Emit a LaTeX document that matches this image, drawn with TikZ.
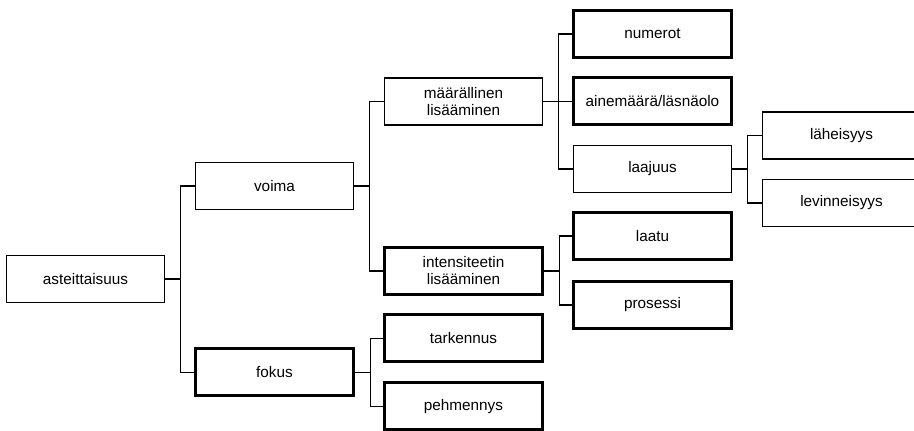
\documentclass[tikz,border=0pt]{standalone}
\usepackage{fontspec}
\setmainfont{Liberation Sans}
\usetikzlibrary{arrows}

\begin{document}
\begin{tikzpicture}[
            x = 1pt, y = 1pt,
            node distance = 189pt, % distance between box centres
            box/.style = {draw, line width=1.3pt, minimum width=158pt, minimum height=47pt,
                          inner sep=0pt, align=center, font=\fontsize{15.3}{17}\selectfont},
            boldbox/.style = {box, line width=3pt},
            fork/.style = {to path={-- ++(15.5pt,0) |- (\tikztotarget)}},
            line width = 1.3pt % line style
        ]

	\path[use as bounding box, clip] (0,0) rectangle (914,431);

	\node[box] (asteittaisuus) at (85.5,152) {asteittaisuus};
	\node[box] (voima) [right of=asteittaisuus, yshift=93pt] {voima};
	\node[boldbox] (fokus) [right of=asteittaisuus, yshift=-93.5pt] {fokus};

	\node[box] (maarallinen) [right of=voima, yshift=84.5pt] {määrällinen\\lisääminen};
	\node[boldbox] (intensiteetin) [right of=voima, yshift=-85pt] {intensiteetin\\lisääminen};
	\node[boldbox] (tarkennus) [right of=fokus, yshift=34pt] {tarkennus};
	\node[boldbox] (pehmennys) [right of=fokus, yshift=-34pt] {pehmennys};

	\node[boldbox] (numerot) [right of=maarallinen, yshift=67.5pt] {numerot};
	\node[boldbox] (ainemaara) [right of=maarallinen] {ainemäärä/läsnäolo};
	\node[box] (laajuus) [right of=maarallinen, yshift=-67.5pt] {laajuus};
	\node[boldbox] (laatu) [right of=intensiteetin, yshift=35pt] {laatu};
	\node[boldbox] (prosessi) [right of=intensiteetin, yshift=-34pt] {prosessi};

	\node[box] (laheisyys) [right of=laajuus, yshift=33.5pt] {läheisyys};
	\node[box] (levinneisyys) [right of=laajuus, yshift=-34pt] {levinneisyys};

	\draw (asteittaisuus.east) edge[fork] (voima.west) edge[fork] (fokus.west);
	\draw (voima.east) edge[fork] (maarallinen.west) edge[fork] (intensiteetin.west);
	\draw (fokus.east) edge[fork] (tarkennus.west) edge[fork] (pehmennys.west);
	\draw (maarallinen.east) edge[fork] (numerot.west) edge[fork] (ainemaara.west) edge[fork] (laajuus.west);
	\draw (intensiteetin.east) edge[fork] (laatu.west) edge[fork] (prosessi.west);
	\draw (laajuus.east) edge[fork] (laheisyys.west) edge[fork] (levinneisyys.west);

\end{tikzpicture}
\end{document}
